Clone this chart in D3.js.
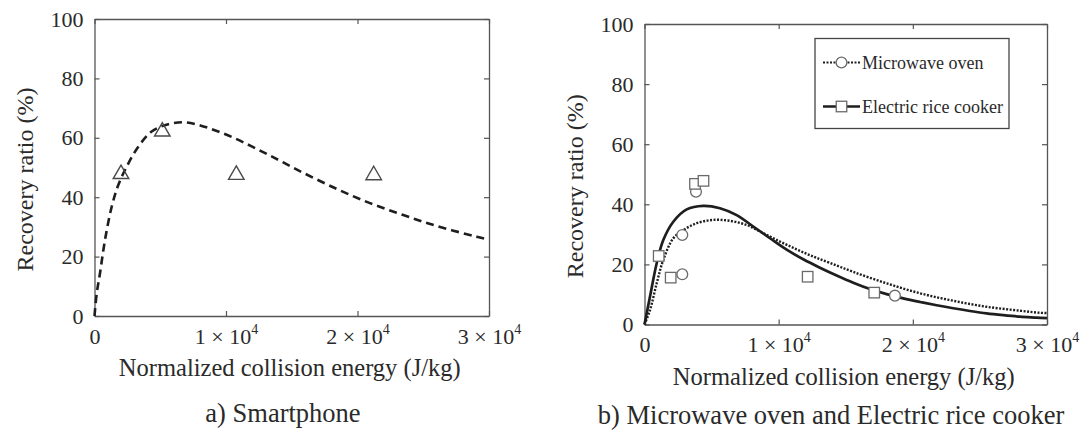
<!DOCTYPE html>
<html>
<head>
<meta charset="utf-8">
<script src="https://cdn.jsdelivr.net/npm/d3@7"></script>
<style>
  html, body { margin: 0; padding: 0; background: #fff; }
  svg { display: block; }
</style>
</head>
<body>
<svg id="chart" width="1083" height="432"></svg>
<script>
// ---- axis ticks ----
const xTickValues = [0, 10000, 20000, 30000];
const yTickValues = [0, 20, 40, 60, 80, 100];

// ---- a) Smartphone: measured points ----
const phoneEnergy = [2015, 5156, 10783, 21232];
const phoneRecovery = [47.8, 62.1, 47.5, 47.4];

// ---- a) Smartphone: fitted curve ----
const phoneFitEnergy = [0, 170, 418, 798, 1308, 1810, 2449, 3331, 4350, 5612, 6882, 8152, 9414, 10684, 11954, 13217, 14357, 15878, 18418, 20951, 23483, 26023, 29065, 30000];
const phoneFitRecovery = [0, 7.6, 14.4, 25.6, 36.8, 44.1, 50.3, 57.0, 62.1, 64.6, 65.2, 64.0, 62.1, 59.8, 57.1, 54.3, 51.7, 48.2, 42.8, 38.0, 34.0, 30.3, 26.7, 25.7];

// ---- b) Microwave oven: measured points ----
const microwaveEnergy = [2817, 2817, 3838, 18666];
const microwaveRecovery = [29.8, 16.7, 44.2, 9.6];

// ---- b) Electric rice cooker: measured points ----
const cookerEnergy = [1058, 1952, 3763, 4396, 12161, 17124];
const cookerRecovery = [22.8, 15.6, 46.8, 47.8, 15.9, 10.6];

// ---- b) fitted curves ----
const microwaveFitEnergy = [0, 410, 909, 1401, 2146, 2891, 3890, 5127, 6371, 7615, 8852, 10097, 11341, 12578, 13815, 15559, 18048, 20529, 23010, 25499, 27981, 29471, 30000];
const microwaveFitRecovery = [0, 4.8, 13.7, 21.5, 28.7, 31.4, 33.7, 34.8, 34.5, 33.1, 30.4, 27.6, 25.0, 22.6, 20.5, 17.5, 13.7, 10.4, 7.9, 5.9, 4.6, 3.9, 3.8];
const cookerFitEnergy = [0, 410, 909, 1401, 2146, 3145, 4382, 5626, 6870, 8107, 9352, 10596, 11833, 13077, 14322, 15559, 16803, 18048, 19285, 20529, 21774, 23010, 24255, 25499, 26736, 27981, 29225, 30000];
const cookerFitRecovery = [0, 9.3, 20.4, 28.1, 34.2, 38.3, 39.5, 38.7, 36.4, 32.6, 28.7, 24.9, 21.7, 18.9, 16.3, 13.9, 11.8, 10.1, 8.7, 7.5, 6.4, 5.4, 4.5, 3.7, 3.1, 2.6, 2.3, 2.1];

const xLabel = "Normalized collision energy (J/kg)";
const yLabel = "Recovery ratio (%)";
const legendLabels = ["Microwave oven", "Electric rice cooker"];

const FONT = '"Liberation Serif"';
const TEXT = "#2a2a2a";
const AXIS = "#555";
const INK = "#1e1e1e";
const MARK = "#6a6a6a";

const svg = d3.select("#chart");

function zip(xs, ys) { return xs.map((x, i) => [x, ys[i]]); }
function label(sel, size) {
  return sel.style("font-family", FONT).attr("font-size", size).style("fill", TEXT);
}

// Builds one boxed panel with inward ticks on all four sides.
function panel(box, title, titlePos, ylabelX) {
  const x = d3.scaleLinear().domain([0, 30000]).range([box.left, box.right]);
  const y = d3.scaleLinear().domain([0, 100]).range([box.bottom, box.top]);
  const g = svg.append("g");

  const styleAxis = sel => {
    sel.attr("font-family", null).attr("font-size", null);
    sel.select(".domain").attr("stroke", AXIS).attr("stroke-width", 1.3);
    sel.selectAll(".tick line").attr("stroke", AXIS).attr("stroke-width", 1.2);
  };

  const bottom = g.append("g").attr("transform", `translate(0,${box.bottom})`)
    .call(d3.axisBottom(x).tickValues(xTickValues).tickSizeInner(-5).tickSizeOuter(0).tickPadding(12)
      .tickFormat(() => ""))
    .call(styleAxis);
  bottom.selectAll(".tick text").each(function(d) {
    const t = label(d3.select(this), 22);
    if (d === 0) { t.text("0"); return; }
    t.append("tspan").text(`${d / 10000} \u00d7 10`);
    t.append("tspan").text("4").attr("font-size", 14).attr("dy", "-0.72em");
  });

  g.append("g").attr("transform", `translate(0,${box.top})`)
    .call(d3.axisTop(x).tickValues(xTickValues).tickSizeInner(-5).tickSizeOuter(0).tickFormat(() => ""))
    .call(styleAxis);

  g.append("g").attr("transform", `translate(${box.left},0)`)
    .call(d3.axisLeft(y).tickValues(yTickValues).tickSizeInner(-5).tickSizeOuter(0).tickPadding(11))
    .call(styleAxis)
    .selectAll(".tick text").call(label, 22);

  g.append("g").attr("transform", `translate(${box.right},0)`)
    .call(d3.axisRight(y).tickValues(yTickValues).tickSizeInner(-5).tickSizeOuter(0).tickFormat(() => ""))
    .call(styleAxis);

  const cx = (box.left + box.right) / 2;
  g.append("text").attr("x", cx - 2).attr("y", box.bottom + 60)
    .attr("text-anchor", "middle").call(label, 24.5).text(xLabel);
  g.append("text").attr("x", titlePos[0]).attr("y", titlePos[1])
    .attr("text-anchor", "middle").call(label, 26.5).text(title);
  g.append("text")
    .attr("transform", `translate(${ylabelX},${(box.top + box.bottom) / 2 + 12}) rotate(-90)`)
    .attr("text-anchor", "middle").call(label, 24).text(yLabel);

  return { x, y, g };
}

// ---------- a) Smartphone ----------
const A = panel({ left: 94.5, right: 489, top: 19, bottom: 316 }, "a) Smartphone", [283, 422], 33);

A.g.append("path")
  .datum(zip(phoneFitEnergy, phoneFitRecovery))
  .attr("fill", "none").attr("stroke", INK).attr("stroke-width", 2.6)
  .attr("stroke-dasharray", "8,5")
  .attr("d", d3.line().x(d => A.x(d[0])).y(d => A.y(d[1])).curve(d3.curveCatmullRom.alpha(0.5)));

const tri = d3.symbol().type(d3.symbolTriangle).size(105);
A.g.selectAll("path.tri").data(zip(phoneEnergy, phoneRecovery)).join("path")
  .attr("class", "tri")
  .attr("transform", d => `translate(${A.x(d[0])},${A.y(d[1])})`)
  .attr("d", tri).attr("fill", "none").attr("stroke", "#4a4a4a").attr("stroke-width", 1.4);

// ---------- b) Microwave oven and Electric rice cooker ----------
const B = panel({ left: 644.5, right: 1047, top: 24, bottom: 324.5 }, "b) Microwave oven and Electric rice cooker", [831, 424], 583);

const lineB = d3.line().x(d => B.x(d[0])).y(d => B.y(d[1])).curve(d3.curveCatmullRom.alpha(0.5));
B.g.append("path").datum(zip(microwaveFitEnergy, microwaveFitRecovery))
  .attr("fill", "none").attr("stroke", INK).attr("stroke-width", 2.4)
  .attr("stroke-dasharray", "2,1.5").attr("d", lineB);
B.g.append("path").datum(zip(cookerFitEnergy, cookerFitRecovery))
  .attr("fill", "none").attr("stroke", INK).attr("stroke-width", 2.7).attr("d", lineB);

B.g.selectAll("circle.mw").data(zip(microwaveEnergy, microwaveRecovery)).join("circle")
  .attr("class", "mw").attr("cx", d => B.x(d[0])).attr("cy", d => B.y(d[1])).attr("r", 5.4)
  .attr("fill", "#fff").attr("stroke", MARK).attr("stroke-width", 1.3);

const SQ = 10.5;
B.g.selectAll("rect.rc").data(zip(cookerEnergy, cookerRecovery)).join("rect")
  .attr("class", "rc").attr("x", d => B.x(d[0]) - SQ / 2).attr("y", d => B.y(d[1]) - SQ / 2)
  .attr("width", SQ).attr("height", SQ)
  .attr("fill", "#fff").attr("stroke", MARK).attr("stroke-width", 1.3);

// legend
const leg = B.g.append("g");
leg.append("rect").attr("x", 815).attr("y", 38.5).attr("width", 194).attr("height", 90)
  .attr("fill", "#fff").attr("stroke", "#444").attr("stroke-width", 1.3);
const rows = [
  { label: legendLabels[0], y: 62.5, dash: "2,1.5", width: 2, marker: "circle" },
  { label: legendLabels[1], y: 106.5, dash: null, width: 2.4, marker: "square" }
];
rows.forEach(r => {
  leg.append("line").attr("x1", 823).attr("x2", 860).attr("y1", r.y).attr("y2", r.y)
    .attr("stroke", INK).attr("stroke-width", r.width).attr("stroke-dasharray", r.dash);
  if (r.marker === "circle") {
    leg.append("circle").attr("cx", 841.5).attr("cy", r.y).attr("r", 5.4)
      .attr("fill", "#fff").attr("stroke", MARK).attr("stroke-width", 1.3);
  } else {
    leg.append("rect").attr("x", 841.5 - SQ / 2).attr("y", r.y - SQ / 2).attr("width", SQ).attr("height", SQ)
      .attr("fill", "#fff").attr("stroke", MARK).attr("stroke-width", 1.3);
  }
  leg.append("text").attr("x", 862).attr("y", r.y + 6).call(label, 18).text(r.label);
});
</script>
</body>
</html>
